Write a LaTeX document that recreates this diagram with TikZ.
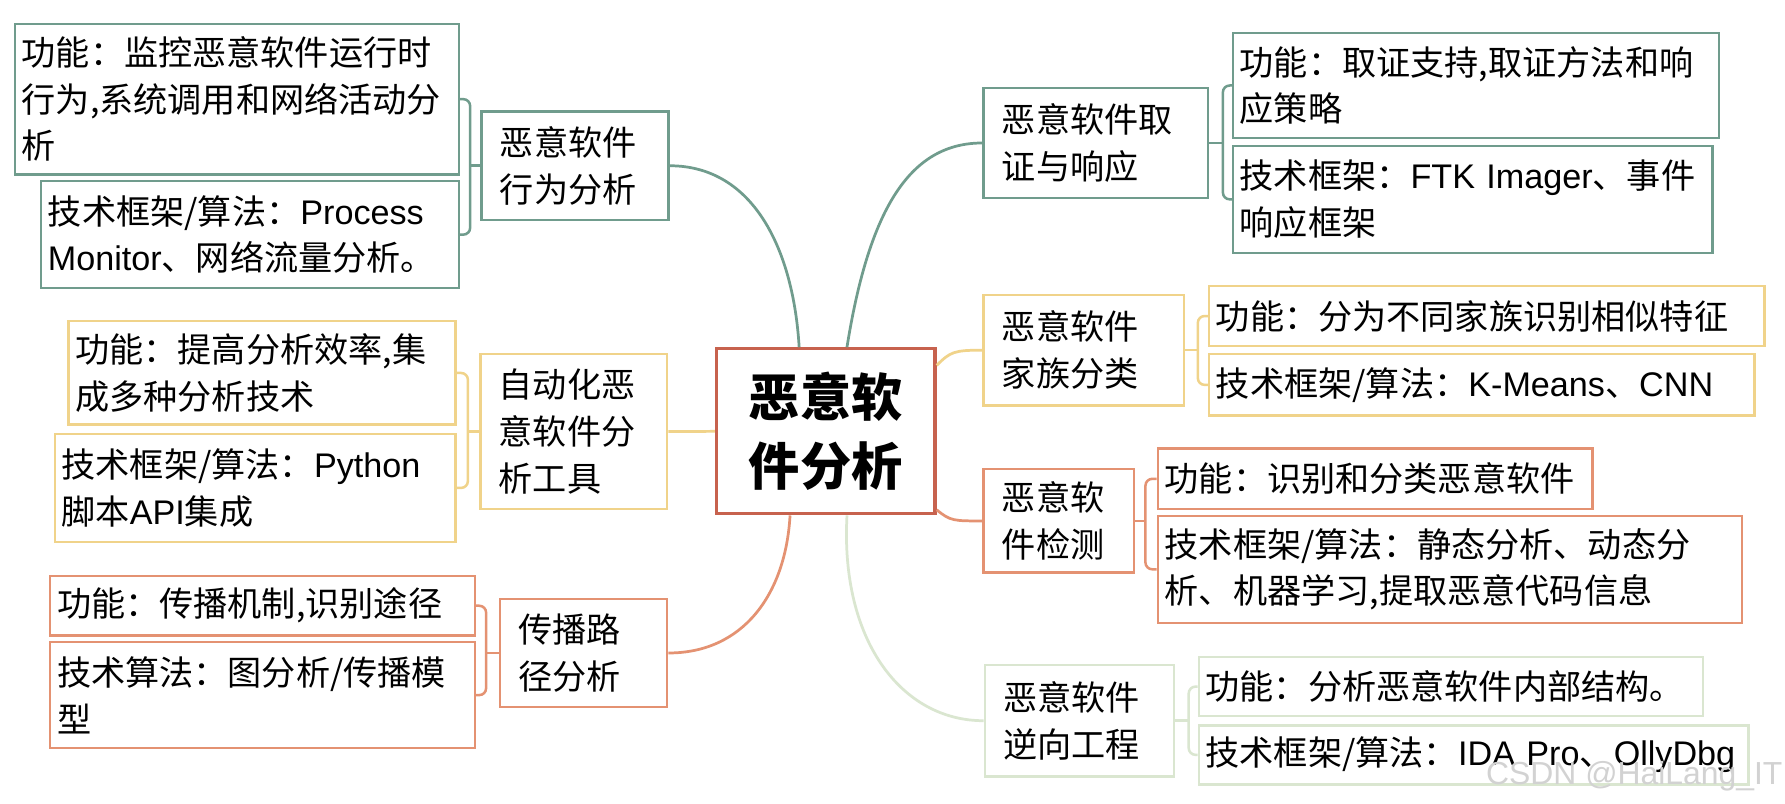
\documentclass[tikz,border=0pt]{standalone}
\usepackage{fontspec}
\setmainfont{Noto Sans CJK SC}
\newfontfamily\lat{Liberation Sans}
\usetikzlibrary{calc}
\definecolor{cteal}{RGB}{112,156,141}
\definecolor{cyellow}{RGB}{240,211,138}
\definecolor{corange}{RGB}{228,146,114}
\definecolor{ccentre}{RGB}{199,98,78}
\definecolor{cpale}{RGB}{218,230,208}
\begin{document}
\begin{tikzpicture}[x=1pt,y=-1pt,
 leaf/.style={draw, line width=2.2pt, anchor=north west, inner xsep=6pt, inner ysep=0pt, align=left, font=\fontsize{30}{41}\selectfont},
 midbox/.style={draw, line width=2.2pt, anchor=north west, inner xsep=16pt, inner ysep=0pt, align=left, font=\fontsize{30}{41}\selectfont},
 conn/.style={line width=2.4pt},
 brk/.style={line width=2.2pt, rounded corners=6pt}]
\useasboundingbox[fill=white] (0,0) rectangle (1568,706);

% centre
\node[draw=ccentre, line width=2.8pt, anchor=north west, inner sep=0pt, align=center, minimum width=192pt, minimum height=145pt, font=\fontsize{45}{60}\selectfont\bfseries] (C) at (628,305) {恶意软\\件分析};

% left 1
\node[leaf, draw=cteal, text width=378pt, minimum height=132pt] (L1a) at (12,20) {功能：监控恶意软件运行时\\行为,系统调用和网络活动分\\析};
\node[leaf, draw=cteal, text width=355pt, minimum height=94pt] (L1b) at (35,158) {技术框架/算法：{\lat Process}\\{\lat Monitor}、网络流量分析。};
\node[midbox, draw=cteal, text width=132pt, minimum height=95pt] (L1) at (422,97) {恶意软件\\行为分析};

% left 2
\node[leaf, draw=cyellow, text width=328pt, minimum height=91pt] (L2a) at (59,281) {功能：提高分析效率,集\\成多种分析技术};
\node[leaf, draw=cyellow, text width=340pt, minimum height=95pt] (L2b) at (47,380) {技术框架/算法：{\lat Python}\\脚本{\lat API}集成};
\node[midbox, draw=cyellow, text width=132pt, minimum height=136pt] (L2) at (421,310) {自动化恶\\意软件分\\析工具};

% left 3
\node[leaf, draw=corange, text width=361pt, minimum height=52pt] (L3a) at (43,505) {功能：传播机制,识别途径};
\node[leaf, draw=corange, text width=361pt, minimum height=93pt] (L3b) at (43,563) {技术算法：图分析/传播模\\型};
\node[midbox, draw=corange, text width=115pt, minimum height=95pt] (L3) at (438,525) {传播路\\径分析};

% right 1
\node[midbox, draw=cteal, text width=165pt, minimum height=97pt] (R1) at (863,76) {恶意软件取\\证与响应};
\node[leaf, draw=cteal, text width=415pt, minimum height=92pt] (R1a) at (1082,28) {功能：取证支持,取证方法和响\\应策略};
\node[leaf, draw=cteal, text width=409pt, minimum height=94pt] (R1b) at (1082,127) {技术框架：{\lat FTK Imager}、事件\\响应框架};

% right 2
\node[midbox, draw=cyellow, text width=144pt, minimum height=97pt] (R2) at (863,258) {恶意软件\\家族分类};
\node[leaf, draw=cyellow, text width=476pt, minimum height=53pt] (R2a) at (1061,250) {功能：分为不同家族识别相似特征};
\node[leaf, draw=cyellow, text width=467pt, minimum height=54pt] (R2b) at (1061,310) {技术框架/算法：{\lat K-Means}、{\lat CNN}};

% right 3
\node[midbox, draw=corange, text width=100pt, minimum height=91pt] (R3) at (863,411) {恶意软\\件检测};
\node[leaf, draw=corange, text width=370pt, minimum height=53pt] (R3a) at (1016,393) {功能：识别和分类恶意软件};
\node[leaf, draw=corange, text width=501pt, minimum height=94pt] (R3b) at (1016,452) {技术框架/算法：静态分析、动态分\\析、机器学习,提取恶意代码信息};

% right 4
\node[midbox, draw=cpale, text width=134pt, minimum height=98pt] (R4) at (864,583) {恶意软件\\逆向工程};
\node[leaf, draw=cpale, text width=431pt, minimum height=52pt] (R4a) at (1052,576) {功能：分析恶意软件内部结构。};
\node[leaf, draw=cpale, text width=471pt, minimum height=52pt] (R4b) at (1052,636) {技术框架/算法：{\lat IDA Pro}、{\lat OllyDbg}};

% brackets
\coordinate (k1) at ($(L1.west)+(-9,0)$);
\draw[brk, cteal] (L1a.east) -| (k1) |- (L1b.east);
\draw[brk, cteal] (k1) -- (L1.west);
\coordinate (k2) at ($(L2.west)+(-10,0)$);
\draw[brk, cyellow] (L2a.east) -| (k2) |- (L2b.east);
\draw[brk, cyellow] (k2) -- (L2.west);
\coordinate (k3) at ($(L3.west)+(-11,0)$);
\draw[brk, corange] (L3a.east) -| (k3) |- (L3b.east);
\draw[brk, corange] (k3) -- (L3.west);
\coordinate (k4) at ($(R1.east)+(12,0)$);
\draw[brk, cteal] (R1a.west) -| (k4) |- (R1b.west);
\draw[brk, cteal] (k4) -- (R1.east);
\coordinate (k5) at ($(R2.east)+(11,0)$);
\draw[brk, cyellow] (R2a.west) -| (k5) |- (R2b.west);
\draw[brk, cyellow] (k5) -- (R2.east);
\coordinate (k6) at ($(R3.east)+(9,0)$);
\draw[brk, corange] (R3a.west) -| (k6) |- (R3b.west);
\draw[brk, corange] (k6) -- (R3.east);
\coordinate (k7) at ($(R4.east)+(12,0)$);
\draw[brk, cpale] (R4a.west) -| (k7) |- (R4b.west);
\draw[brk, cpale] (k7) -- (R4.east);

% main connectors
\draw[conn, cteal] (L1.east) .. controls +(74,0) and +(-5,-85) .. ($(C.north west)+(74,0)$);
\draw[conn, cyellow] (L2.east) -- (C.west);
\draw[conn, corange] (L3.east) .. controls +(65,0) and +(-4,70) .. ($(C.south west)+(66,0)$);
\draw[conn, cteal] ($(C.north west)+(116,0)$) .. controls +(20,-125) and +(-62,0) .. (R1.west);
\draw[conn, cyellow] ($(C.north east)+(0,16)$) .. controls +(12,-12) and +(-25,0) .. (R2.west);
\draw[conn, corange] ($(C.south east)+(0,-5)$) .. controls +(12,10) and +(-25,0) .. (R3.west);
\draw[conn, cpale] ($(C.south west)+(116,0)$) .. controls +(-6,110) and +(-72,0) .. (R4.west);

% watermark
\node[anchor=east, inner sep=0pt, text=gray!35, font=\lat\fontsize{28}{28}\selectfont] (wm) at (1566,682) {CSDN @HaiLang\_IT};
\end{tikzpicture}
\end{document}
